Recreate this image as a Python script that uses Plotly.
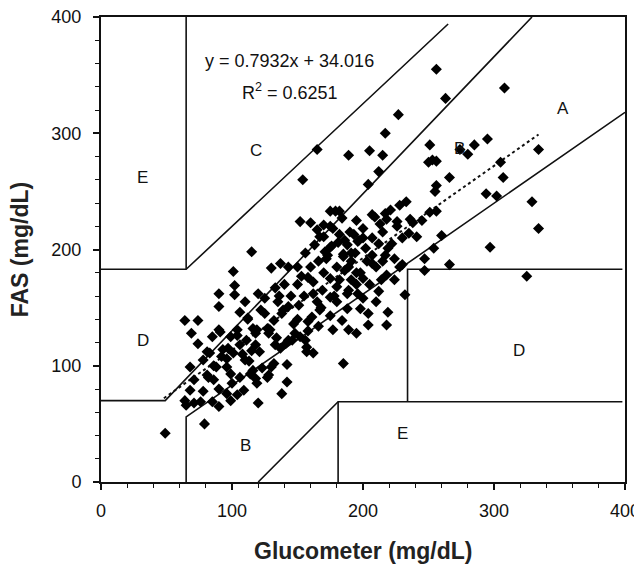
import plotly.graph_objects as go

# ---------------- data ----------------
glucometer = [256,308,263,227,217,165,189,154,205,215,212,204,251,253,256,250,274,280,285,295,334,305,307,266,256,255,294,302,329,334,297,325,266,260,254,247,228,251,256,233,228,226,235,241,217,221,209,200,179,175,170,207,196,207,212,219,217,207,194,202,191,224,247,232,230,218,212,219,218,204,204,189,198,196,189,191,186,207,214,200,224,
              185,142,138,120,142,128,118,157,162,133,141,123,130,121,
              49,79,65,71,78,64,90,99,76,85,68,71,68,78,82,86,90,96,104,100,99,106,88,92,83,74,69,85,91,104,97,101,111,110,114,119,109,115,118,
              90,102,102,120,133,90,106,64,74,90,81,81,96,99,106,119,116,127,132,137,132,127,139,147,152,157,115,101,104,116,
              152,160,175,182,184,170,177,165,182,167,163,175,188,156,171,137,130,143,153,162,169,175,162,151,143,138,129,134,161,167,166,175,177,184,188,182,189,185,191,180,188,156,146,
              195,200,205,210,180,175,170,160,150,145,155,165,180,195,215,222,230,238,245,215,195,190,150,140,125,112,150,195,210,125,110,135,158,
              172,185,198,203,178,168,158,148,143,128,118,113,108,96,93,86,112,122,136,158,166,176,186,193,200,213,218,226,236,173,181,197]
fas = [355,339,330,316,300,286,281,260,285,281,267,256,290,277,276,275,286,282,290,295,286,275,262,262,255,250,248,246,241,218,202,177,187,212,201,192,185,232,233,241,238,220,214,211,231,234,228,218,233,220,211,230,207,210,205,201,195,195,197,201,190,192,182,161,187,178,164,146,135,145,135,131,149,162,165,174,182,188,174,158,174,
       102,86,76,68,101,92,89,112,111,118,119,98,99,112,
       42,50,66,68,78,70,65,70,69,69,79,88,99,105,90,88,80,76,75,85,93,90,99,108,111,119,128,125,129,126,115,111,122,105,93,85,79,113,128,
       162,161,169,162,167,151,146,139,139,131,112,92,99,125,118,131,96,90,102,115,139,132,148,136,125,116,198,181,131,132,
       224,223,233,233,227,221,218,217,213,211,204,202,204,197,198,188,184,185,177,172,165,159,162,152,151,145,131,124,142,148,134,143,131,139,149,174,185,194,197,168,162,122,122,
       180,175,170,185,185,175,180,185,170,160,160,155,155,170,190,205,210,223,225,215,225,215,185,170,145,140,140,128,155,158,155,155,130,
       192,196,180,190,160,150,138,128,122,128,118,104,110,106,114,100,141,148,160,176,190,203,208,213,210,222,226,224,226,195,206,208]

# regression line (from the chart legend)
reg_slope = 0.7932
reg_intercept = 34.016
reg_x_range = [48, 334]

# Clarke error-grid boundaries (as drawn in the reference)
zone_x = [0, 49, 329, None, 65, 65, 400, None, 0, 65, 265, None, 65, 65, None,
          120, 181, 398, None, 181, 181, None, 234, 234, 398]
zone_y = [70, 70, 400, None, 0, 56, 318, None, 183, 183, 394, None, 183, 400, None,
          0, 69, 69, None, 0, 69, None, 69, 183, 183]

zone_labels = ["E", "C", "A", "B", "D", "D", "B", "E"]
zone_label_x = [32, 118, 353, 274, 32, 319, 110, 230]
zone_label_y = [262, 285, 321, 287, 122, 113, 31, 42]

tick_vals = [0, 100, 200, 300, 400]

FONT = "Liberation Sans, Arial, sans-serif"

fig = go.Figure()

fig.add_trace(go.Scatter(x=zone_x, y=zone_y, mode="lines",
                         line=dict(color="#111111", width=1.6),
                         hoverinfo="skip", connectgaps=False, cliponaxis=False))

reg_y = [reg_slope * v + reg_intercept for v in reg_x_range]
fig.add_trace(go.Scatter(x=reg_x_range, y=reg_y, mode="lines",
                         line=dict(color="#111111", width=2, dash="dot")))

fig.add_trace(go.Scatter(x=glucometer, y=fas, mode="markers",
                         marker=dict(symbol="diamond", size=8.5, color="#000000",
                                     line=dict(width=0))))

for t, lx, ly in zip(zone_labels, zone_label_x, zone_label_y):
    fig.add_annotation(x=lx, y=ly, text=t, showarrow=False,
                       font=dict(family=FONT, size=17, color="#111111"))

fig.add_annotation(x=144, y=362, text="y = 0.7932x + 34.016", showarrow=False,
                   font=dict(family=FONT, size=18, color="#111111"))
fig.add_annotation(x=144, y=336, text="R<sup>2</sup> = 0.6251", showarrow=False,
                   font=dict(family=FONT, size=18, color="#111111"))

fig.add_annotation(xref="paper", yref="paper", x=0.5, y=-0.148,
                   text="<b>Glucometer (mg/dL)</b>", showarrow=False,
                   xanchor="center", yanchor="middle",
                   font=dict(family=FONT, size=23, color="#222222"))
fig.add_annotation(xref="paper", yref="paper", x=-0.155, y=0.5,
                   text="<b>FAS (mg/dL)</b>", showarrow=False, textangle=-90,
                   xanchor="center", yanchor="middle",
                   font=dict(family=FONT, size=23, color="#222222"))

axis_common = dict(range=[0, 400], tickvals=tick_vals, showgrid=False, zeroline=False,
                   showline=True, linewidth=2, linecolor="#111111", mirror=True,
                   ticks="outside", ticklen=6, tickwidth=1.5, tickcolor="#111111",
                   automargin=False, ticklabeloverflow="allow",
                   minor=dict(dtick=20, ticks="outside", ticklen=4, tickwidth=1,
                              tickcolor="#111111", showgrid=False),
                   tickfont=dict(family=FONT, size=18, color="#111111"))

fig.update_xaxes(**axis_common, ticklabelstandoff=5)
fig.update_yaxes(**axis_common, ticklabelstandoff=8)

# page body has an 8px default margin; margins compensate so the plot area
# sits where the reference's does
fig.update_layout(width=642, height=568,
                  margin=dict(l=93, r=25, t=9, b=94, autoexpand=False),
                  plot_bgcolor="white", paper_bgcolor="white",
                  showlegend=False)

fig.write_html("out.html")
